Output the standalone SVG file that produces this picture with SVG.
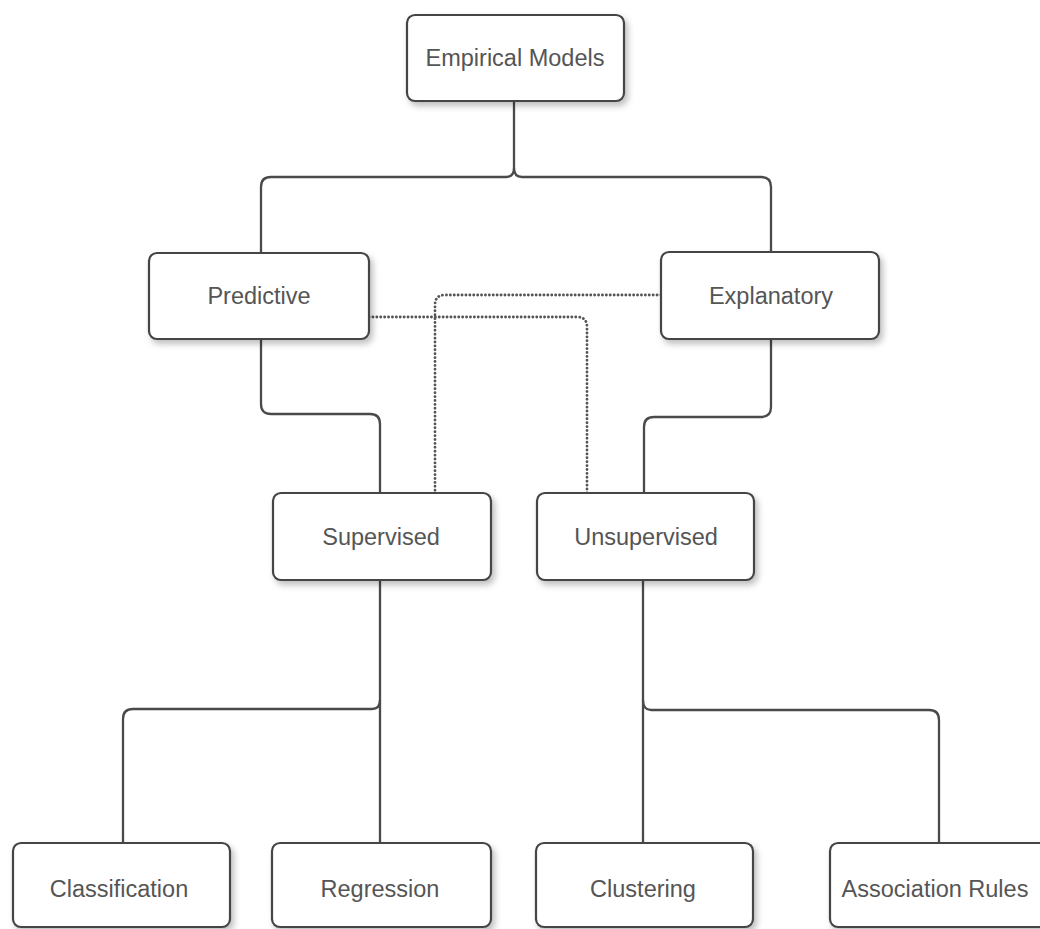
<svg xmlns="http://www.w3.org/2000/svg" width="1040" height="929" viewBox="0 0 1040 929">
<style>
.box{fill:#fff;stroke:#444;stroke-width:2.2;filter:url(#sh)}
.lbl{font-family:"Liberation Sans",Arial,sans-serif;font-size:23.5px;fill:#555;text-anchor:middle}
.ln{fill:none;stroke:#4a4a4a;stroke-width:2.3}
.dot{fill:none;stroke:#555;stroke-width:2.8;stroke-dasharray:0.1 3.8;stroke-linecap:round}
</style>
<defs>
<filter id="sh" x="-10%" y="-10%" width="130%" height="140%">
<feDropShadow dx="3" dy="4" stdDeviation="3" flood-color="#000" flood-opacity="0.25"/>
</filter>
</defs>
<rect width="1040" height="929" fill="#fff"/>
<g id="connectors">
<path class="ln" d="M514,101 V168 Q514,177 522,177 H761 Q771,177 771,187 V252"/>
<path class="ln" d="M514,168 Q514,177 506,177 H271 Q261,177 261,187 V253"/>
<path class="ln" d="M261,339 V404 Q261,414 271,414 H370 Q380,414 380,424 V493"/>
<path class="ln" d="M771,339 V407 Q771,417 761,417 H654 Q644,417 644,427 V493"/>
<path class="ln" d="M380,580 V843"/>
<path class="ln" d="M380,700 Q380,709 372,709 H133 Q123,709 123,719 V843"/>
<path class="ln" d="M643,580 V843"/>
<path class="ln" d="M643,700 Q643,710 651,710 H929 Q939,710 939,720 V843"/>
<path class="dot" d="M369,317 H577 Q587,317 587,327 V493"/>
<path class="dot" d="M661,295 H445 Q435,295 435,305 V493"/>
</g>
<g id="empirical"><rect class="box" x="407" y="15" width="217" height="86" rx="8"/><text class="lbl" x="515" y="66">Empirical Models</text></g>
<g id="predictive"><rect class="box" x="149" y="253" width="220" height="86" rx="8"/><text class="lbl" x="259" y="304">Predictive</text></g>
<g id="explanatory"><rect class="box" x="661" y="252" width="218" height="87" rx="8"/><text class="lbl" x="771" y="304">Explanatory</text></g>
<g id="supervised"><rect class="box" x="273" y="493" width="218" height="87" rx="8"/><text class="lbl" x="381" y="545">Supervised</text></g>
<g id="unsupervised"><rect class="box" x="537" y="493" width="217" height="87" rx="8"/><text class="lbl" x="646" y="545">Unsupervised</text></g>
<g id="classification"><rect class="box" x="13" y="843" width="217" height="84" rx="8"/><text class="lbl" x="119" y="897">Classification</text></g>
<g id="regression"><rect class="box" x="272" y="843" width="219" height="84" rx="8"/><text class="lbl" x="380" y="897">Regression</text></g>
<g id="clustering"><rect class="box" x="536" y="843" width="217" height="84" rx="8"/><text class="lbl" x="643" y="897">Clustering</text></g>
<g id="association"><rect class="box" x="830" y="843" width="218" height="84" rx="8"/><text class="lbl" x="935" y="897">Association Rules</text></g>
</svg>
